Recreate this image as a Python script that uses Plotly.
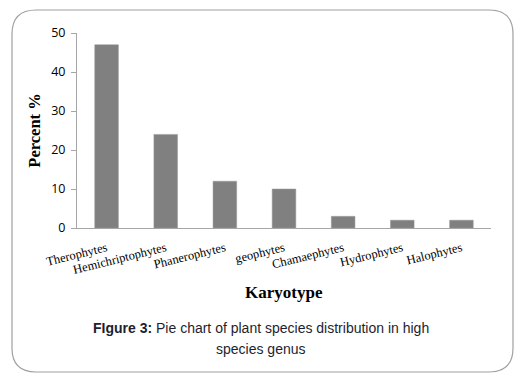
import plotly.graph_objects as go

categories = ["Therophytes", "Hemichriptophytes", "Phanerophytes", "geophytes",
              "Chamaephytes", "Hydrophytes", "Halophytes"]
values = [47, 24, 12, 10, 3, 2, 2]
y_ticks = [0, 10, 20, 30, 40, 50]

W, H = 527, 383
L, R, T, B = 77, 491, 33, 228


def px(x):
    return (x - L) / (R - L)


def py(y):
    return (B - y) / (B - T)


fig = go.Figure(go.Bar(
    x=categories, y=values, width=0.4,
    marker=dict(color="#808080", line=dict(color="#9a9a9a", width=0.5)),
))

# rounded frame
x0, x1, y0, y1, r = 12, 513, 10, 372, 24
path = (
    f"M {px(x0+r)},{py(y0)} L {px(x1-r)},{py(y0)} "
    f"Q {px(x1)},{py(y0)} {px(x1)},{py(y0+r)} "
    f"L {px(x1)},{py(y1-r)} Q {px(x1)},{py(y1)} {px(x1-r)},{py(y1)} "
    f"L {px(x0+r)},{py(y1)} Q {px(x0)},{py(y1)} {px(x0)},{py(y1-r)} "
    f"L {px(x0)},{py(y0+r)} Q {px(x0)},{py(y0)} {px(x0+r)},{py(y0)} Z"
)

fig.update_layout(
    width=W, height=H,
    margin=dict(l=L, r=W - R, t=T, b=H - B),
    paper_bgcolor="white", plot_bgcolor="white",
    showlegend=False,
    shapes=[dict(type="path", xref="paper", yref="paper", path=path,
                 line=dict(color="#a0a0a0", width=1.2), layer="below")],
    xaxis=dict(
        showline=True, linecolor="#a6a6a6", linewidth=1, ticks="",
        tickangle=-14, ticklabelstandoff=7,
        tickfont=dict(family="Liberation Serif", size=12.5, color="#000"),
        showgrid=False,
    ),
    yaxis=dict(
        range=[0, 50], tickvals=y_ticks, showline=True, linecolor="#a6a6a6",
        linewidth=1, ticks="outside", ticklen=5, tickcolor="#a6a6a6",
        showgrid=False, zeroline=False, ticklabelstandoff=3,
        tickfont=dict(family="Open Sans", size=12.5, color="#000"),
        title=dict(text="<b>Percent %</b>", standoff=6,
                   font=dict(family="Liberation Serif", size=16.5, color="#000")),
    ),
    annotations=[
        dict(text="<b>Karyotype</b>", x=px(284), y=py(292), xref="paper", yref="paper",
             showarrow=False, xanchor="center", yanchor="middle",
             font=dict(family="Liberation Serif", size=17, color="#000")),
        dict(text="<b>FIgure 3:</b> Pie chart of plant species distribution in high",
             x=px(261), y=py(328), xref="paper", yref="paper",
             showarrow=False, xanchor="center", yanchor="middle",
             font=dict(family="Liberation Sans", size=14, color="#1e1e2e")),
        dict(text="species genus",
             x=px(261), y=py(349), xref="paper", yref="paper",
             showarrow=False, xanchor="center", yanchor="middle",
             font=dict(family="Liberation Sans", size=14, color="#1e1e2e")),
    ],
)

fig.write_html("out.html", config={"displayModeBar": False},
               post_script="document.body.style.margin='0px';document.body.style.padding='0px';")
